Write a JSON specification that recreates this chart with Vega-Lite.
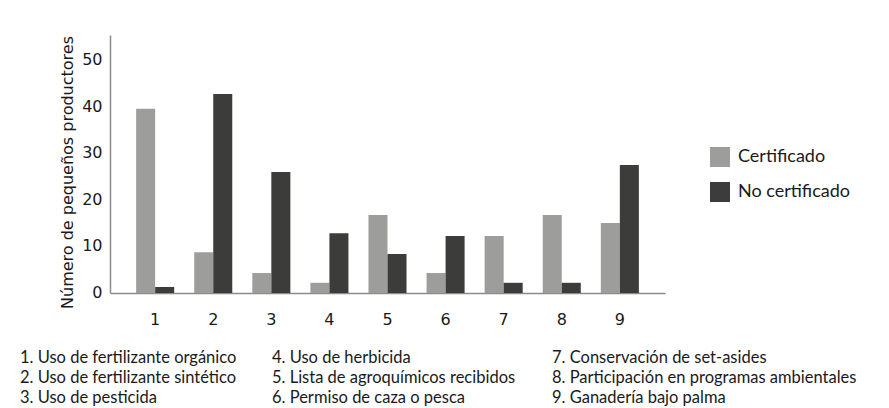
{
  "$schema": "https://vega.github.io/schema/vega-lite/v6.json",
  "padding": {"left": 20, "top": 35, "right": 0, "bottom": 0},
  "background": "white",
  "config": {
    "view": {"stroke": null},
    "font": "DejaVu Sans",
    "concat": {"spacing": 0}
  },
  "resolve": {"scale": {"color": "independent"}, "legend": {"color": "independent"}},
  "spacing": 21,
  "vconcat": [
    {
      "spacing": 0,
      "resolve": {"scale": {"color": "independent"}, "legend": {"color": "independent"}},
      "hconcat": [
        {
          "width": 39,
          "height": 10,
          "data": {"values": []},
          "mark": "point"
        },
        {
          "width": 555,
          "height": 258,
          "data": {
            "values": [
              {"item": "1", "grupo": "Certificado", "valor": 39.7},
              {"item": "1", "grupo": "No certificado", "valor": 1.3},
              {"item": "2", "grupo": "Certificado", "valor": 8.8},
              {"item": "2", "grupo": "No certificado", "valor": 42.9},
              {"item": "3", "grupo": "Certificado", "valor": 4.3},
              {"item": "3", "grupo": "No certificado", "valor": 26.1},
              {"item": "4", "grupo": "Certificado", "valor": 2.2},
              {"item": "4", "grupo": "No certificado", "valor": 12.9},
              {"item": "5", "grupo": "Certificado", "valor": 16.8},
              {"item": "5", "grupo": "No certificado", "valor": 8.4},
              {"item": "6", "grupo": "Certificado", "valor": 4.3},
              {"item": "6", "grupo": "No certificado", "valor": 12.3},
              {"item": "7", "grupo": "Certificado", "valor": 12.3},
              {"item": "7", "grupo": "No certificado", "valor": 2.2},
              {"item": "8", "grupo": "Certificado", "valor": 16.8},
              {"item": "8", "grupo": "No certificado", "valor": 2.2},
              {"item": "9", "grupo": "Certificado", "valor": 15.1},
              {"item": "9", "grupo": "No certificado", "valor": 27.6}
            ]
          },
          "mark": {"type": "bar"},
          "encoding": {
            "x": {
              "field": "item",
              "type": "ordinal",
              "scale": {"paddingInner": 0.345, "paddingOuter": 0.45},
              "axis": {
                "title": null,
                "labelAngle": 0,
                "ticks": false,
                "domainColor": "#8c8c8c",
                "domainWidth": 1.5,
                "labelFont": "DejaVu Sans",
                "labelFontSize": 16,
                "labelColor": "#1a1a1a",
                "labelPadding": 18
              }
            },
            "xOffset": {
              "field": "grupo",
              "type": "nominal",
              "sort": ["Certificado", "No certificado"],
              "scale": {"paddingInner": 0, "paddingOuter": 0}
            },
            "y": {
              "field": "valor",
              "type": "quantitative",
              "scale": {"domain": [0, 55.6], "nice": false},
              "axis": {
                "title": "Número de pequeños productores",
                "values": [0, 10, 20, 30, 40, 50],
                "grid": false,
                "ticks": false,
                "domainColor": "#8c8c8c",
                "domainWidth": 1.5,
                "labelFont": "DejaVu Sans",
                "labelFontSize": 16,
                "labelColor": "#1a1a1a",
                "labelPadding": 8,
                "labelOffset": -1,
                "titleFont": "DejaVu Sans",
                "titleFontSize": 16,
                "titleFontWeight": "normal",
                "titleColor": "#1a1a1a",
                "titlePadding": 6,
                "titleY": 137
              }
            },
            "color": {
              "field": "grupo",
              "type": "nominal",
              "scale": {"domain": ["Certificado", "No certificado"], "range": ["#9d9d9c", "#3c3c3b"]},
              "legend": {
                "title": null,
                "orient": "none",
                "legendX": 600,
                "legendY": 112,
                "symbolType": "square",
                "symbolSize": 400,
                "symbolStrokeWidth": 0,
                "symbolOpacity": 1,
                "labelFont": "Lato",
                "labelFontSize": 18,
                "labelColor": "#1a1a1a",
                "labelOffset": 8,
                "rowPadding": 15
              }
            }
          }
        }
      ]
    },
    {
      "bounds": "flush",
      "spacing": 0,
      "hconcat": [
        {
          "width": 252,
          "height": 60,
          "data": {
            "values": [
              {"col": "a", "fila": 1, "texto": "1. Uso de fertilizante orgánico"},
              {"col": "a", "fila": 2, "texto": "2. Uso de fertilizante sintético"},
              {"col": "a", "fila": 3, "texto": "3. Uso de pesticida"}
            ]
          },
          "mark": {"type": "text", "align": "left", "baseline": "middle", "font": "Lato", "fontSize": 16.5, "color": "#1a1a1a"},
          "encoding": {
            "x": {"field": "col", "type": "nominal", "bandPosition": 0, "scale": {"type": "band", "paddingInner": 0, "paddingOuter": 0}, "axis": null},
            "y": {"field": "fila", "type": "ordinal", "axis": null},
            "text": {"field": "texto"}
          }
        },
        {
          "width": 280,
          "height": 60,
          "data": {
            "values": [
              {"col": "b", "fila": 1, "texto": "4. Uso de herbicida"},
              {"col": "b", "fila": 2, "texto": "5. Lista de agroquímicos recibidos"},
              {"col": "b", "fila": 3, "texto": "6. Permiso de caza o pesca"}
            ]
          },
          "mark": {"type": "text", "align": "left", "baseline": "middle", "font": "Lato", "fontSize": 16.5, "color": "#1a1a1a"},
          "encoding": {
            "x": {"field": "col", "type": "nominal", "bandPosition": 0, "scale": {"type": "band", "paddingInner": 0, "paddingOuter": 0}, "axis": null},
            "y": {"field": "fila", "type": "ordinal", "axis": null},
            "text": {"field": "texto"}
          }
        },
        {
          "width": 330,
          "height": 60,
          "data": {
            "values": [
              {"col": "c", "fila": 1, "texto": "7. Conservación de set-asides"},
              {"col": "c", "fila": 2, "texto": "8. Participación en programas ambientales"},
              {"col": "c", "fila": 3, "texto": "9. Ganadería bajo palma"}
            ]
          },
          "mark": {"type": "text", "align": "left", "baseline": "middle", "font": "Lato", "fontSize": 16.5, "color": "#1a1a1a"},
          "encoding": {
            "x": {"field": "col", "type": "nominal", "bandPosition": 0, "scale": {"type": "band", "paddingInner": 0, "paddingOuter": 0}, "axis": null},
            "y": {"field": "fila", "type": "ordinal", "axis": null},
            "text": {"field": "texto"}
          }
        }
      ]
    }
  ]
}
